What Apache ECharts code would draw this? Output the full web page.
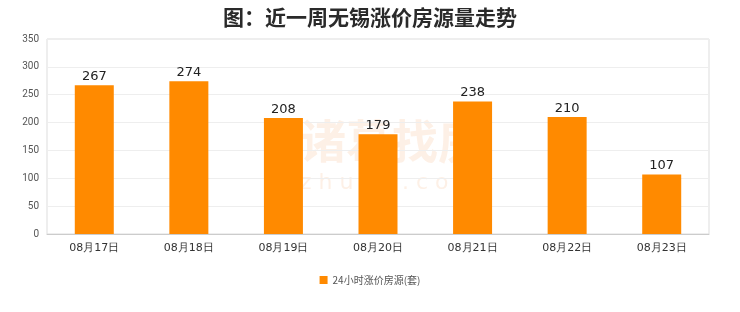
<!DOCTYPE html>
<html><head><meta charset="utf-8">
<script src="https://cdn.jsdelivr.net/npm/echarts@6/dist/echarts.min.js"></script>
<style>html,body{margin:0;padding:0;background:#fff}#c{width:740px;height:312px}</style>
</head><body><div id="c"></div>
<script>
var categories = ['08月17日','08月18日','08月19日','08月20日','08月21日','08月22日','08月23日'];
var values = [267, 274, 208, 179, 238, 210, 107];
var seriesName = '24小时涨价房源(套)';
var titleText = '图：近一周无锡涨价房源量走势';

var chart = echarts.init(document.getElementById('c'));
chart.setOption({
  animation: false,
  backgroundColor: '#fff',
  title: {
    text: titleText, left: 'center', top: 2,
    textStyle: {fontSize: 21, fontWeight: 'bold', color: '#2a2a2a', fontFamily: 'Noto Sans CJK SC'}
  },
  graphic: [{
    type: 'text', left: 300, top: 118, z: 0,
    style: {text: '诸葛找房', fill: 'rgba(240,140,60,0.13)', font: 'bold 46px "Noto Sans CJK SC"'}
  },{
    type: 'text', left: 300, top: 172, z: 0,
    style: {text: 'z h u g e . c o m', fill: 'rgba(240,140,60,0.13)', font: '22px "DejaVu Sans"'}
  }],
  legend: {
    bottom: 22, left: 'center', itemWidth: 8, itemHeight: 8, icon: 'rect',
    textStyle: {fontSize: 10, color: '#555', fontFamily: 'Noto Sans CJK SC'},
    data: [seriesName]
  },
  grid: {left: 47, right: 31, top: 39, bottom: 78, show: true, borderColor: '#ddd', borderWidth: 1, backgroundColor: 'transparent'},
  xAxis: {
    type: 'category', data: categories,
    axisLine: {lineStyle: {color: '#ccc'}},
    axisTick: {show: false},
    axisLabel: {fontSize: 11, color: '#333', fontFamily: 'DejaVu Sans', margin: 9}
  },
  yAxis: {
    type: 'value', min: 0, max: 350, interval: 50,
    axisLine: {show: false}, axisTick: {show: false},
    splitLine: {lineStyle: {color: '#eee'}},
    axisLabel: {fontSize: 10, color: '#555', fontFamily: 'Roboto', margin: 8}
  },
  series: [{
    name: seriesName, type: 'bar', data: values, barWidth: 39,
    itemStyle: {color: '#ff8a00'},
    label: {show: true, position: 'top', fontSize: 13, color: '#222', fontFamily: 'DejaVu Sans', distance: 2}
  }]
});
</script></body></html>
